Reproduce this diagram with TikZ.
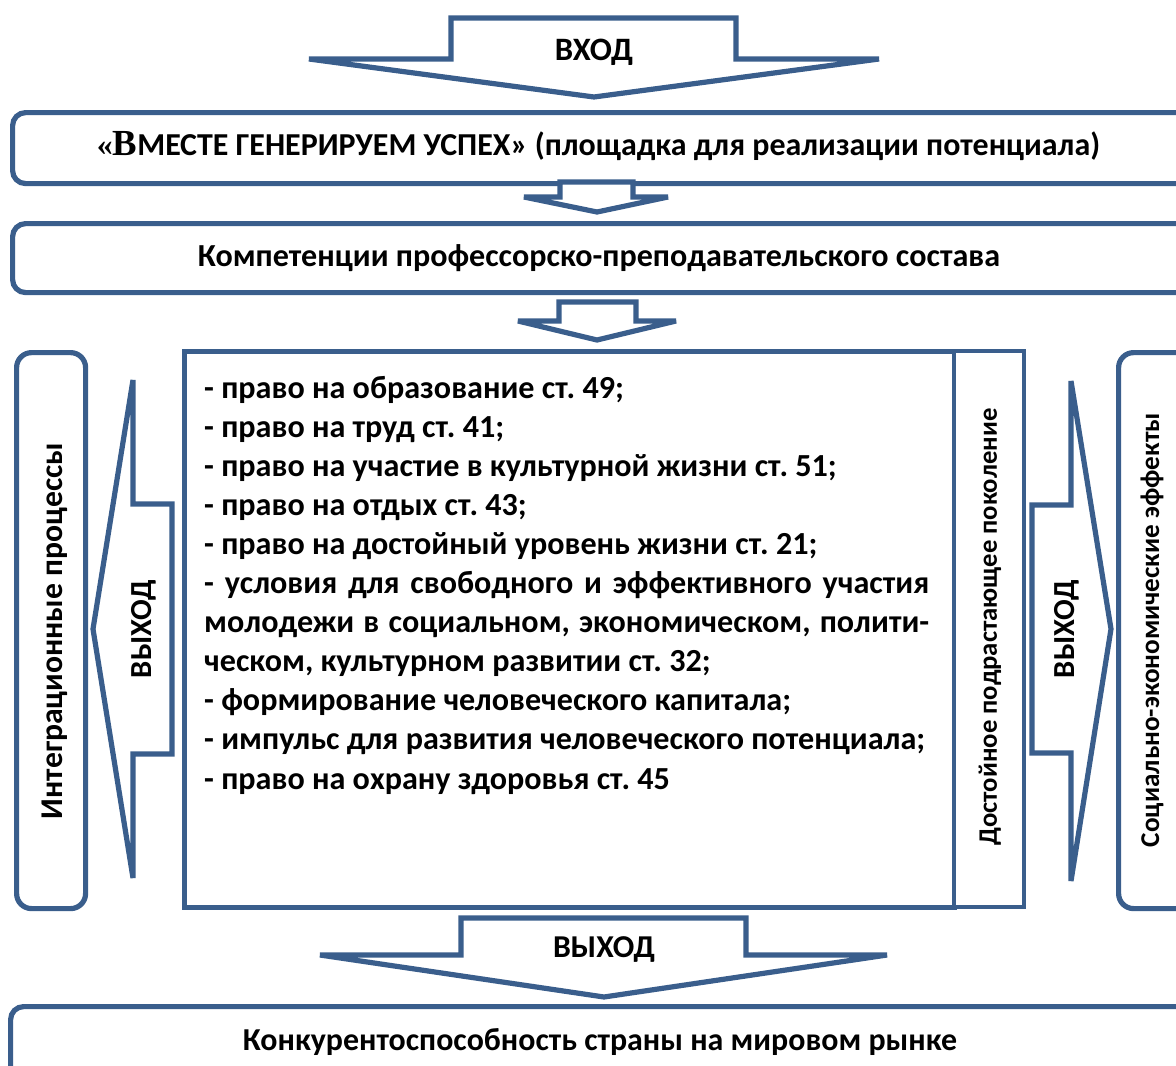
\documentclass[tikz,border=0pt]{standalone}
\usepackage{fontspec}
\setmainfont{Carlito}
\newfontfamily\tnr{Liberation Serif}
\definecolor{bord}{HTML}{3A5E8C}
\newlength\tmpw
\frenchspacing
\begin{document}
\frenchspacing
\settowidth\tmpw{\bfseries\fontsize{30pt}{30pt}\selectfont - импульс для развития человеческого потенциала;}
\pgfmathsetmacro\lfs{721/\tmpw*30}
\begin{tikzpicture}[x=1pt,y=-1pt,
  box/.style={draw=bord, line width=5.2pt, rounded corners=13pt, fill=white, inner sep=0pt},
  rbox/.style={draw=bord, line width=5.2pt, fill=white, inner sep=0pt},
  arr/.style={draw=bord, line width=5.2pt, line join=miter, miter limit=2, fill=white},
  lab/.style={font=\bfseries\frenchspacing, inner sep=0pt, text=black},
  li/.style={lab, anchor=base west, font=\bfseries\frenchspacing\fontsize{\lfs pt}{\lfs pt}\selectfont}]
\useasboundingbox (0,0) rectangle (1176,1066);
\clip (0,0) rectangle (1176,1066);
% boxes
\node[box, anchor=north west, minimum width=1200pt, minimum height=71pt] (b1) at (10,110) {};
\node[box, anchor=north west, minimum width=1200pt, minimum height=69pt] (b2) at (10,221) {};
\node[box, anchor=north west, minimum width=1200pt, minimum height=100pt] (b5) at (8,1004) {};
\node[box, rounded corners=15pt, anchor=north west, minimum width=69pt, minimum height=556pt] (lb) at (14,350) {};
\node[box, rounded corners=15pt, anchor=north west, minimum width=100pt, minimum height=556pt] (rb) at (1116,350) {};
\node[rbox, anchor=north west, minimum width=770pt, minimum height=556pt] (cb) at (182,349) {};
\node[rbox, anchor=north west, minimum width=70pt, minimum height=556pt, line width=4.2pt] (gb) at (952,349) {};
% block arrows
\draw[arr] (451,18) -- (736,18) -- (736,59) -- (879,59) -- (594,97) -- (309,59) -- (451,59) -- cycle;
\draw[arr] (560,182) -- (633,182) -- (633,197) -- (668,197) -- (597,212) -- (524,197) -- (560,197) -- cycle;
\draw[arr] (559,302) -- (636,302) -- (636,321) -- (676,321) -- (597,340) -- (518,321) -- (559,321) -- cycle;
\draw[arr] (461,918) -- (746,918) -- (746,955) -- (887,955) -- (604,997) -- (320,955) -- (461,955) -- cycle;
\draw[arr] (133,380) -- (133,504) -- (172,504) -- (172,754) -- (133,754) -- (133,878) -- (93,629) -- cycle;
\draw[arr] (1071,381) -- (1071,505) -- (1032,505) -- (1032,753) -- (1071,753) -- (1071,881) -- (1111,629) -- cycle;
% labels
\node[lab, anchor=base] (in) at (594,60) {\resizebox{78pt}{!}{ВХОД}};
\node[lab, anchor=base] (t1) at (598.5,155) {\resizebox{1003pt}{!}{{\tnr «\fontsize{11.5}{12}\selectfont В}МЕСТЕ ГЕНЕРИРУЕМ УСПЕХ» (площадка для реализации потенциала)}};
\node[lab, anchor=base] (t2) at (599,266) {\resizebox{802pt}{!}{Компетенции профессорско-преподавательского состава}};
\node[lab, anchor=base] (out3) at (604,957) {\resizebox{102pt}{!}{ВЫХОД}};
\node[lab, anchor=base] (t5) at (600,1050) {\resizebox{714pt}{!}{Конкурентоспособность страны на мировом рынке}};
\node[lab, rotate=90] (tl) at (55,631) {\resizebox{376pt}{!}{Интеграционные процессы}};
\node[lab, rotate=90] (tg) at (990,627) {\resizebox{437pt}{!}{Достойное подрастающее поколение}};
\node[lab, rotate=90] (tr) at (1152,630) {\resizebox{434pt}{!}{Социально-экономические эффекты}};
\node[lab, rotate=90] (outl) at (144,629) {\resizebox{98pt}{!}{ВЫХОД}};
\node[lab, rotate=90] (outr) at (1067,629) {\resizebox{98pt}{!}{ВЫХОД}};
% list
\node[li] (l1) at (204,398) {- право на образование ст. 49;};
\node[li] (l2) at (204,437.1) {- право на труд ст. 41;};
\node[li] (l3) at (204,476.2) {- право на участие в культурной жизни ст. 51;};
\node[li] (l4) at (204,515.3) {- право на отдых ст. 43;};
\node[li] (l5) at (204,554.4) {- право на достойный уровень жизни ст. 21;};
\node[li] (l6) at (204,593.5) {\makebox[725pt][s]{- условия для свободного и эффективного участия}};
\node[li] (l7) at (204,632.6) {\makebox[725pt][s]{молодежи в социальном, экономическом, полити-}};
\node[li] (l8) at (204,671.7) {ческом, культурном развитии ст. 32;};
\node[li] (l9) at (204,710.8) {- формирование человеческого капитала;};
\node[li] (l10) at (204,749.9) {- импульс для развития человеческого потенциала;};
\node[li] (l11) at (204,789) {- право на охрану здоровья ст. 45};
\end{tikzpicture}
\end{document}
